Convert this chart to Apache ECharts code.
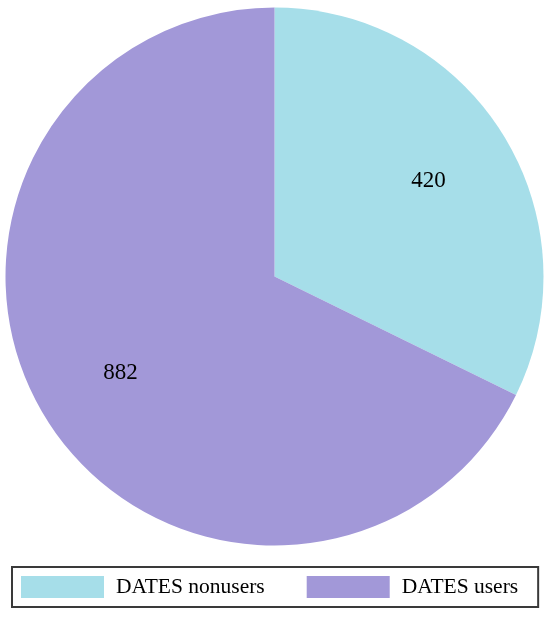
<!DOCTYPE html>
<html>
<head>
<meta charset="utf-8">
<script src="https://cdn.jsdelivr.net/npm/echarts@6/dist/echarts.min.js"></script>
<style>
  html, body { margin: 0; padding: 0; background: #fff; }
</style>
</head>
<body>
<!-- container sized like the reference picture -->
<div id="main" style="width: 550px; height: 617px"></div>
<script>
var groups = ['DATES nonusers', 'DATES users'];
var counts = [420, 882];
var colors = ['#a6dee9', '#a298d8'];

var slices = groups.map(function (name, i) {
  return { name: name, value: counts[i], itemStyle: { color: colors[i] } };
});
// same slices, transparent, only used to place the labels further out
var labelSlices = groups.map(function (name, i) {
  return { name: name, value: counts[i], itemStyle: { color: 'rgba(0,0,0,0)' } };
});

var chart = echarts.init(document.getElementById('main'));
chart.setOption({
  animation: false,
  textStyle: { fontFamily: 'Liberation Serif' },
  legend: {
    data: groups.map(function (name, i) {
      return { name: name, itemStyle: { color: colors[i] } };
    }),
    left: 12,
    top: 567,
    orient: 'horizontal',
    icon: 'rect',
    itemWidth: 83,
    itemHeight: 22,
    itemGap: 42,
    padding: [9, 20, 9, 9],
    borderColor: '#3a3a3a',
    borderWidth: 2,
    selectedMode: false,
    textStyle: {
      fontFamily: 'Liberation Serif',
      fontSize: 21.5,
      color: '#000',
      padding: [0, 0, 0, 7]
    }
  },
  series: [
    {
      type: 'pie',
      center: [274.5, 276.5],
      radius: [0, 269],
      startAngle: 90,
      clockwise: true,
      silent: true,
      label: { show: false },
      labelLine: { show: false },
      itemStyle: { borderWidth: 0 },
      data: slices
    },
    {
      type: 'pie',
      center: [274.5, 276.5],
      radius: [88, 269],
      startAngle: 90,
      clockwise: true,
      silent: true,
      label: {
        show: true,
        position: 'inside',
        formatter: '{c}',
        fontFamily: 'Liberation Serif',
        fontSize: 23,
        color: '#000'
      },
      labelLine: { show: false },
      itemStyle: { borderWidth: 0 },
      data: labelSlices
    }
  ]
});
</script>
</body>
</html>
